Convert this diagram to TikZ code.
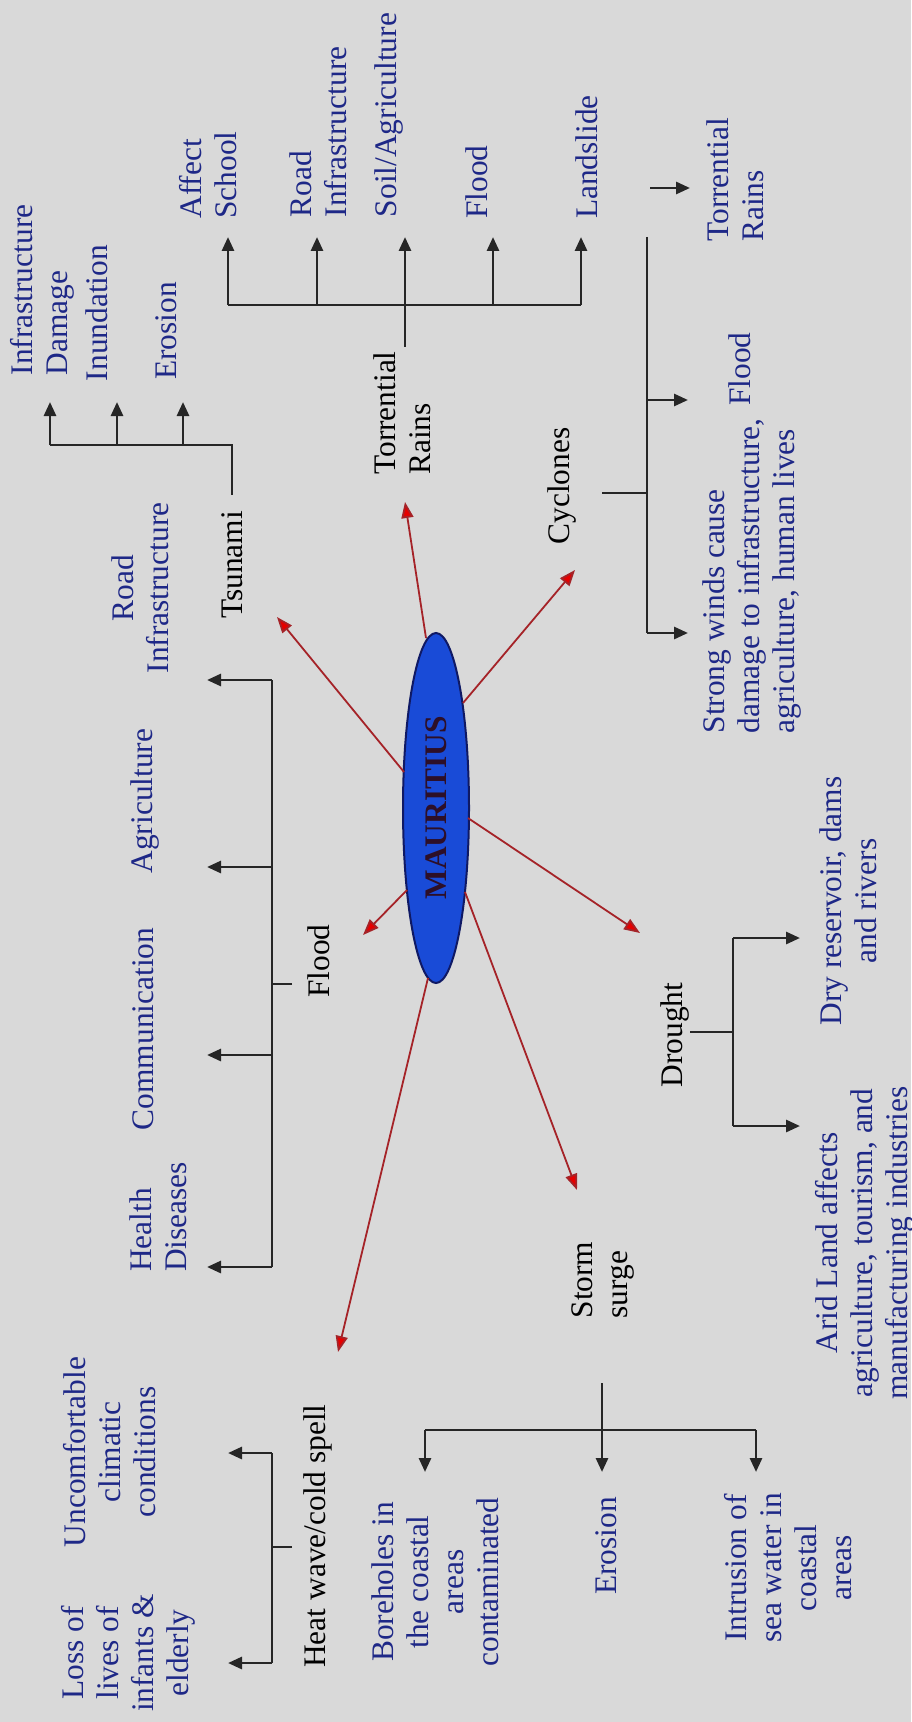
\documentclass[tikz,border=0pt]{standalone}
\usepackage{fontspec}
\setmainfont{Liberation Serif}
\usetikzlibrary{arrows.meta,shapes.geometric}
\definecolor{bggray}{RGB}{217,217,217}
\definecolor{lblblue}{RGB}{30,40,135}
\definecolor{maublue}{RGB}{25,75,215}
\definecolor{maunavy}{RGB}{15,25,100}
\definecolor{mautext}{RGB}{45,15,40}
\definecolor{linkred}{RGB}{165,35,40}
\begin{document}
\begin{tikzpicture}[x=0.5pt, y=-0.5pt,
    lbl/.style={rotate=90, text=lblblue, inner sep=2pt, font=\fontsize{15.7}{17.5}\selectfont},
    haz/.style={rotate=90, text=black, inner sep=2pt, font=\fontsize{15.7}{17.5}\selectfont},
    line/.style={draw=black!85, line width=1.4pt},
    arr/.style={line, -{Triangle[length=7pt,width=6pt]}},
    redarr/.style={draw=linkred, line width=0.9pt, -{Triangle[length=8pt,width=6pt,fill=red!90!black]}}]
    \fill[bggray] (0,0) rectangle (911,1722);
    \useasboundingbox (0,0) rectangle (911,1722);

    % centre
    \node[ellipse, draw=maunavy, line width=1pt, fill=maublue, rotate=90, minimum width=175pt, minimum height=33pt, inner sep=0pt, text=mautext, font=\bfseries\fontsize{15.7}{17.5}\selectfont] (mau) at (436,808) {MAURITIUS};

    % hazards
    \node[haz] (tsu) at (232,565) {Tsunami};
    \node[haz, align=left] (tor1) at (402,413) {Torrential\\Rains};
    \node[haz] (cyc) at (562,486) {Cyclones};
    \node[haz] (fldc) at (319,961) {Flood};
    \node[haz] (drt) at (675,1035) {Drought};
    \node[haz, align=left] (storm) at (603,1280) {Storm\\surge};
    \node[haz] (heat) at (318,1536) {Heat wave/cold spell};

    % impacts
    \node[lbl, align=left] (idmg) at (42,290) {Infrastructure\\Damage};
    \node[lbl] (inund) at (97,313) {Inundation};
    \node[lbl] (eros1) at (166,331) {Erosion};
    \node[lbl, align=left] (aff) at (208,175) {Affect\\School};
    \node[lbl, align=left] (rinf1) at (318,132) {Road\\Infrastructure};
    \node[lbl] (soil) at (389,115) {Soil/Agriculture};
    \node[lbl] (fld1) at (477,182) {Flood};
    \node[lbl] (land) at (587,157) {Landslide};
    \node[lbl, align=left] (tor2) at (735,180) {Torrential\\Rains};
    \node[lbl] (fld2) at (740,369) {Flood};
    \node[lbl, align=left] (wind) at (752,576) {Strong winds cause\\damage to infrastructure,\\agriculture, human lives};
    \node[lbl, align=center] (dry) at (848,901) {Dry reservoir, dams\\and rivers};
    \node[lbl, align=center] (arid) at (865,1243) {Arid Land affects\\agriculture, tourism, and\\manufacturing industries};
    \node[lbl, align=center] (rinf2) at (140,588) {Road\\Infrastructure};
    \node[lbl] (agri) at (145,801) {Agriculture};
    \node[lbl] (comm) at (143,1029) {Communication};
    \node[lbl, align=left] (hlth) at (158,1217) {Health\\Diseases};
    \node[lbl, align=center] (unc) at (110,1452) {Uncomfortable\\climatic\\conditions};
    \node[lbl, align=center] (loss) at (128,1653) {Loss of\\lives of\\infants \&\\elderly};
    \node[lbl, align=center] (bore) at (435,1582) {Boreholes in\\the coastal\\areas\\contaminated};
    \node[lbl] (eros2) at (606,1546) {Erosion};
    \node[lbl, align=center] (intr) at (788,1568) {Intrusion of\\sea water in\\coastal\\areas};

    % red links
    \coordinate (sTsu) at (404,772);   \coordinate (pTsu) at (277,617);
    \coordinate (sTor) at (426,638);   \coordinate (pTor) at (405,502);
    \coordinate (sCyc) at (463,703);   \coordinate (pCyc) at (575,570);
    \coordinate (sDrt) at (468,818);   \coordinate (pDrt) at (640,933);
    \coordinate (sStm) at (465,892);   \coordinate (pStm) at (577,1190);
    \coordinate (sFld) at (407,890);   \coordinate (pFld) at (363,935);
    \coordinate (sHeat) at (428,978);  \coordinate (pHeat) at (338,1352);
    \foreach \s/\p in {sTsu/pTsu,sTor/pTor,sCyc/pCyc,sDrt/pDrt,sStm/pStm,sFld/pFld,sHeat/pHeat}
        \draw[redarr] (\s) -- (\p);

    % tsunami
    \coordinate (tsuJ) at (232,445);
    \coordinate (tIdmg) at (50,402);
    \coordinate (tInund) at (117,402);
    \coordinate (tEros) at (183,402);
    \draw[line] ([yshift=6pt]tsu.east) -- (tsuJ) -- (tIdmg |- tsuJ);
    \foreach \t in {tIdmg,tInund,tEros}
        \draw[arr] (\t |- tsuJ) -- (\t);

    % torrential rains
    \coordinate (torJ) at (405,305);
    \coordinate (tAff) at (228,237);
    \coordinate (tRinf) at (317,237);
    \coordinate (tSoil) at (405,237);
    \coordinate (tFld) at (493,237);
    \coordinate (tLand) at (581,237);
    \draw[line] (torJ |- tor1.east) -- (torJ);
    \draw[line] (tAff |- torJ) -- (tLand |- torJ);
    \foreach \t in {tAff,tRinf,tSoil,tFld,tLand}
        \draw[arr] (\t |- torJ) -- (\t);

    % cyclones
    \coordinate (cycS) at (602,493);
    \coordinate (cycJ) at (647,493);
    \coordinate (cycT) at (647,237);
    \coordinate (tFld2) at (688,400);
    \coordinate (tWind) at (688,633);
    \coordinate (sTor2) at (650,188);
    \coordinate (tTor2) at (690,188);
    \draw[line] (cycS) -- (cycJ);
    \draw[line] (cycT) -- (cycT |- tWind);
    \draw[arr] (cycT |- tFld2) -- (tFld2);
    \draw[arr] (cycT |- tWind) -- (tWind);
    \draw[arr] (sTor2) -- (tTor2);

    % flood
    \coordinate (fldS) at (292,984);
    \coordinate (fldJ) at (272,984);
    \coordinate (tRinf2) at (207,680);
    \coordinate (tAgri) at (207,867);
    \coordinate (tComm) at (207,1055);
    \coordinate (tHlth) at (207,1267);
    \draw[line] (fldS) -- (fldJ);
    \draw[line] (fldJ |- tRinf2) -- (fldJ |- tHlth);
    \foreach \t in {tRinf2,tAgri,tComm,tHlth}
        \draw[arr] (fldJ |- \t) -- (\t);

    % drought
    \coordinate (drtS) at (690,1032);
    \coordinate (drtJ) at (733,1032);
    \coordinate (tDry) at (800,938);
    \coordinate (tArid) at (800,1126);
    \draw[line] (drtS) -- (drtJ);
    \draw[line] (drtJ |- tDry) -- (drtJ |- tArid);
    \foreach \t in {tDry,tArid}
        \draw[arr] (drtJ |- \t) -- (\t);

    % storm surge
    \coordinate (stmS) at (602,1383);
    \coordinate (stmJ) at (602,1430);
    \coordinate (tBore) at (425,1472);
    \coordinate (tEros2) at (602,1472);
    \coordinate (tIntr) at (756,1472);
    \draw[line] (tBore |- stmJ) -- (tIntr |- stmJ);
    \draw[arr] (stmS) -- (tEros2);
    \foreach \t in {tBore,tIntr}
        \draw[arr] (\t |- stmJ) -- (\t);

    % heat wave
    \coordinate (heatS) at (292,1547);
    \coordinate (heatJ) at (272,1547);
    \coordinate (tUnc) at (228,1453);
    \coordinate (tLoss) at (228,1663);
    \draw[line] (heatS) -- (heatJ);
    \draw[line] (heatJ |- tUnc) -- (heatJ |- tLoss);
    \foreach \t in {tUnc,tLoss}
        \draw[arr] (heatJ |- \t) -- (\t);
\end{tikzpicture}
\end{document}
